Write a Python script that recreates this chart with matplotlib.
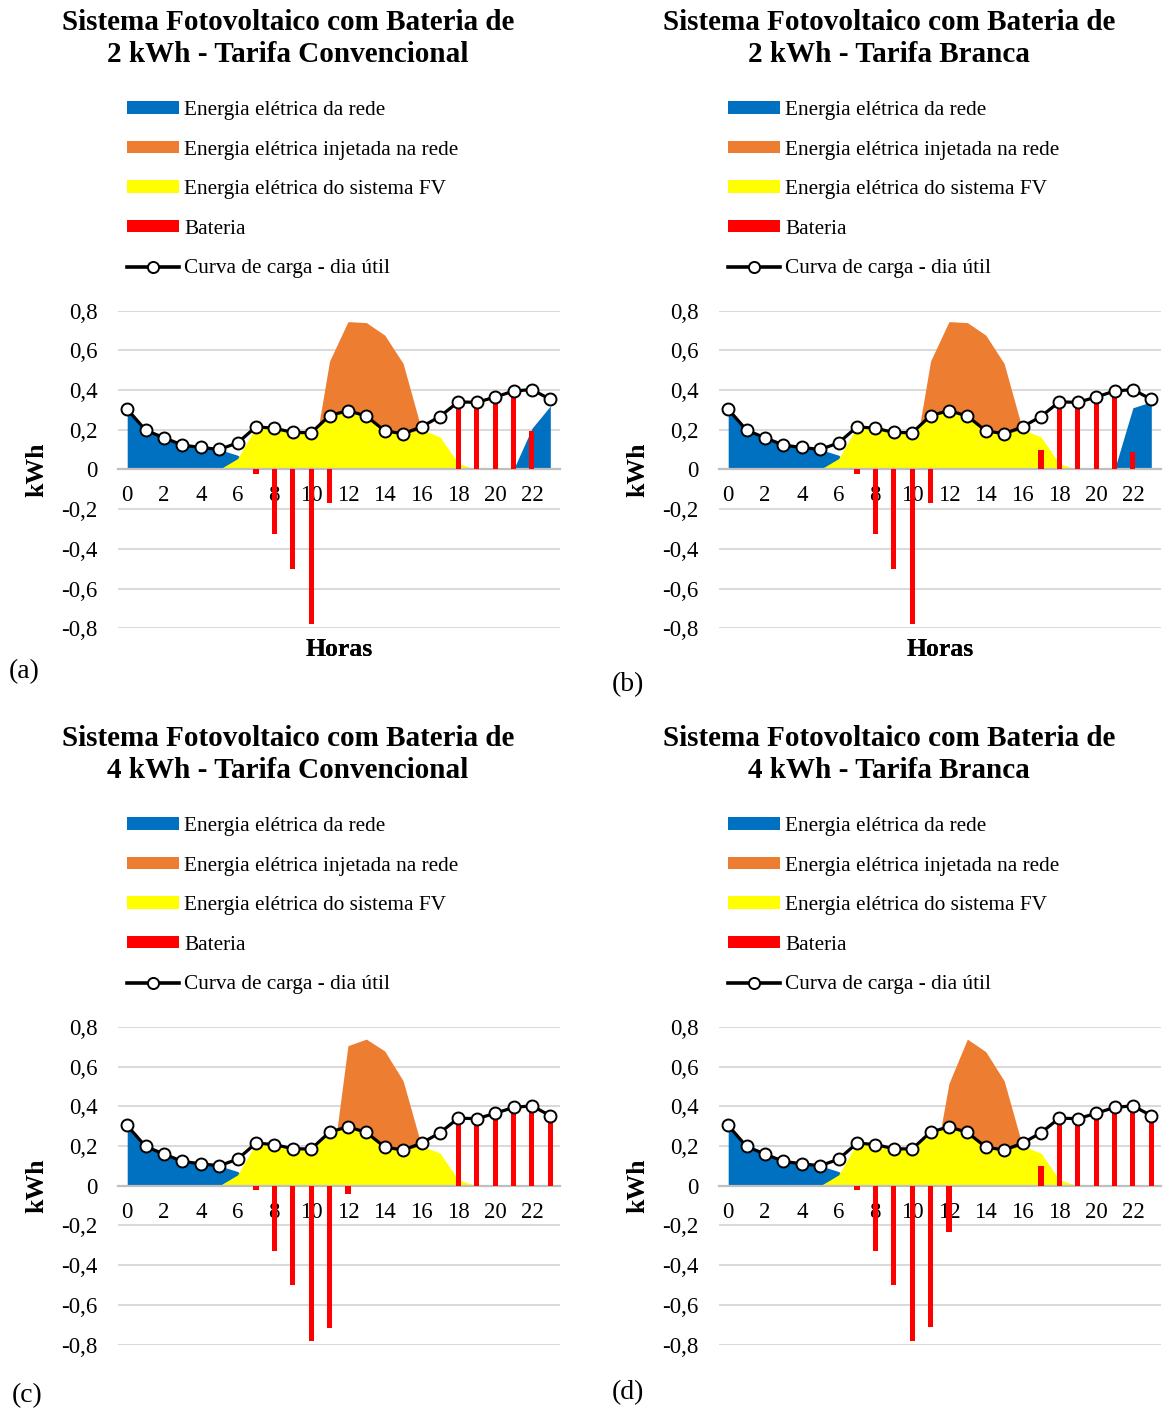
import matplotlib
matplotlib.use('Agg')
import matplotlib.pyplot as plt
from matplotlib.patches import Patch
from matplotlib.lines import Line2D

# ---------------- data ----------------
hours = list(range(24))
xtick_labels = [str(h) for h in range(0, 24, 2)]
ytick_values = [-0.8, -0.6, -0.4, -0.2, 0.0, 0.2, 0.4, 0.6, 0.8]

load = [0.304, 0.198, 0.160, 0.123, 0.111, 0.101, 0.134, 0.215, 0.208, 0.187, 0.185, 0.271,
        0.297, 0.269, 0.195, 0.180, 0.215, 0.267, 0.341, 0.338, 0.365, 0.395, 0.403, 0.353]

pv_self = [0, 0, 0, 0, 0, 0, 0.055, 0.215, 0.208, 0.187, 0.185, 0.271,
           0.297, 0.269, 0.195, 0.180, 0.200, 0.165, 0.030, 0, 0, 0, 0, 0]

grid_a = [0.304, 0.198, 0.160, 0.123, 0.111, 0.101, 0.072, 0, 0, 0, 0, 0,
          0, 0, 0, 0, 0, 0, 0, 0, 0, 0, 0.207, 0.320]
grid_b = [0.304, 0.198, 0.160, 0.123, 0.111, 0.101, 0.072, 0, 0, 0, 0, 0,
          0, 0, 0, 0, 0, 0, 0, 0, 0, 0, 0.311, 0.341]
grid_c = [0.304, 0.198, 0.160, 0.123, 0.111, 0.101, 0.072, 0, 0, 0, 0, 0,
          0, 0, 0, 0, 0, 0, 0, 0, 0, 0, 0, 0]
grid_d = grid_c

inj_a = [0, 0, 0, 0, 0, 0, 0, 0, 0, 0, 0, 0.546,
         0.745, 0.740, 0.677, 0.534, 0.200, 0, 0, 0, 0, 0, 0, 0]
inj_b = inj_a
inj_c = [0, 0, 0, 0, 0, 0, 0, 0, 0, 0, 0, 0,
         0.706, 0.739, 0.679, 0.529, 0.200, 0, 0, 0, 0, 0, 0, 0]
inj_d = [0, 0, 0, 0, 0, 0, 0, 0, 0, 0, 0, 0,
         0.516, 0.739, 0.676, 0.529, 0.200, 0, 0, 0, 0, 0, 0, 0]

bat_a = [0, 0, 0, 0, 0, 0, 0, -0.024, -0.326, -0.500, -0.780, -0.168,
         0, 0, 0, 0, 0, 0, 0.304, 0.311, 0.336, 0.366, 0.193, 0]
bat_b = [0, 0, 0, 0, 0, 0, 0, -0.024, -0.326, -0.500, -0.780, -0.168,
         0, 0, 0, 0, 0, 0.097, 0.304, 0.311, 0.336, 0.366, 0.089, 0]
bat_c = [0, 0, 0, 0, 0, 0, 0, -0.022, -0.326, -0.500, -0.780, -0.714,
         -0.042, 0, 0, 0, 0, 0, 0.304, 0.311, 0.334, 0.366, 0.373, 0.326]
bat_d = [0, 0, 0, 0, 0, 0, 0, -0.020, -0.326, -0.500, -0.780, -0.713,
         -0.235, 0, 0, 0, 0, 0.099, 0.304, 0.311, 0.334, 0.366, 0.373, 0.326]

titles = [("Sistema Fotovoltaico com Bateria de", "2 kWh - Tarifa Convencional"),
          ("Sistema Fotovoltaico com Bateria de", "2 kWh - Tarifa Branca"),
          ("Sistema Fotovoltaico com Bateria de", "4 kWh - Tarifa Convencional"),
          ("Sistema Fotovoltaico com Bateria de", "4 kWh - Tarifa Branca")]
panel_tags = ["(a)", "(b)", "(c)", "(d)"]
legend_labels = ["Energia elétrica da rede", "Energia elétrica injetada na rede",
                 "Energia elétrica do sistema FV", "Bateria", "Curva de carga - dia útil"]
xlabel_text = "Horas"
ylabel_text = "kWh"

grids = [grid_a, grid_b, grid_c, grid_d]
injs = [inj_a, inj_b, inj_c, inj_d]
bats = [bat_a, bat_b, bat_c, bat_d]

# ---------------- style ----------------
C_BLUE = '#0070C0'
C_ORANGE = '#ED7D31'
C_YELLOW = '#FFFF00'
C_RED = '#FF0000'
C_GRID = '#D9D9D9'
C_AXIS = '#BFBFBF'

plt.rcParams['font.family'] = ['Liberation Serif', 'DejaVu Serif']

W, H = 1164, 1410
fig = plt.figure(figsize=(W / 100, H / 100), dpi=100)

# layout in pixels
ax_w, ax_h = 441.5, 317.6
panels = [
    dict(left=118, top=310.7, tx=288, t1=30, lx=127, ly=101, ylx=37, tag=(24, 672)),
    dict(left=719, top=310.7, tx=889, t1=30, lx=728, ly=101, ylx=638, tag=(628, 685)),
    dict(left=118, top=1027.0, tx=288, t1=746, lx=127, ly=817, ylx=37, tag=(27, 1396)),
    dict(left=719, top=1027.0, tx=889, t1=746, lx=728, ly=817, ylx=638, tag=(628, 1393)),
]


def fx(px):
    return px / W


def fy(py):
    return 1 - py / H


for i, p in enumerate(panels):
    ax = fig.add_axes([fx(p['left']), fy(p['top'] + ax_h), ax_w / W, ax_h / H])
    ax.set_xlim(-0.5, 23.5)
    ax.set_ylim(-0.8, 0.8)

    ax.fill_between(hours, 0, injs[i], color=C_ORANGE, lw=0, zorder=2)
    ax.fill_between(hours, 0, grids[i], color=C_BLUE, lw=0, zorder=2.1)
    ax.fill_between(hours, 0, pv_self, color=C_YELLOW, lw=0, zorder=2.2)
    ax.bar(hours, bats[i], width=0.28, color=C_RED, zorder=3)
    ax.plot(hours, load, color='black', lw=2.3, marker='o', ms=8.6,
            mfc='white', mec='black', mew=1.4, zorder=4)

    ax.set_yticks(ytick_values)
    ax.set_yticklabels([('%.1f' % v).replace('.', ',') if v != 0 else '0'
                        for v in ytick_values])
    ax.set_xticks(list(range(0, 24, 2)))
    ax.set_xticklabels(xtick_labels)
    ax.tick_params(axis='both', length=0, labelsize=16.5)
    ax.tick_params(axis='y', pad=14.5)
    ax.tick_params(axis='x', pad=11.5)

    ax.yaxis.grid(True, color=C_GRID, lw=1.4, zorder=0)
    ax.set_axisbelow(True)
    for s in ['top', 'right', 'left']:
        ax.spines[s].set_visible(False)
    ax.spines['bottom'].set_position(('data', 0))
    ax.spines['bottom'].set_color(C_AXIS)
    ax.spines['bottom'].set_linewidth(1.6)
    ax.spines['bottom'].set_zorder(2.5)

    ax.text(0.5, (p['top'] + ax_h - 650) / ax_h, xlabel_text, transform=ax.transAxes,
            ha='center', va='center', fontsize=18.5, fontweight='bold')
    ax.text((p['ylx'] - p['left']) / ax_w, 0.5, ylabel_text, transform=ax.transAxes,
            rotation=90, ha='center', va='center', fontsize=18.5, fontweight='bold')

    # titles
    fig.text(fx(p['tx']), fy(p['t1']), titles[i][0], ha='center', va='baseline',
             fontsize=21, fontweight='bold')
    fig.text(fx(p['tx']), fy(p['t1'] + 32), titles[i][1], ha='center', va='baseline',
             fontsize=21, fontweight='bold')

    # legend
    handles = [Patch(color=C_BLUE, lw=0), Patch(color=C_ORANGE, lw=0),
               Patch(color=C_YELLOW, lw=0), Patch(color=C_RED, lw=0),
               Line2D([0], [0], color='black', lw=2.6, marker='o', ms=8,
                      mfc='white', mec='black', mew=1.4)]
    ax.legend(handles, legend_labels, loc='upper left',
              bbox_to_anchor=(fx(p['lx']), fy(p['ly'])), bbox_transform=fig.transFigure,
              frameon=False, fontsize=15.3, borderpad=0, borderaxespad=0,
              handlelength=2.45, handleheight=0.52, handletextpad=0.25,
              labelspacing=0.97, numpoints=1)

    fig.text(fx(p['tag'][0]), fy(p['tag'][1]), panel_tags[i], ha='center', va='center',
             fontsize=20)

fig.savefig('out.png', dpi=100, facecolor='white')
